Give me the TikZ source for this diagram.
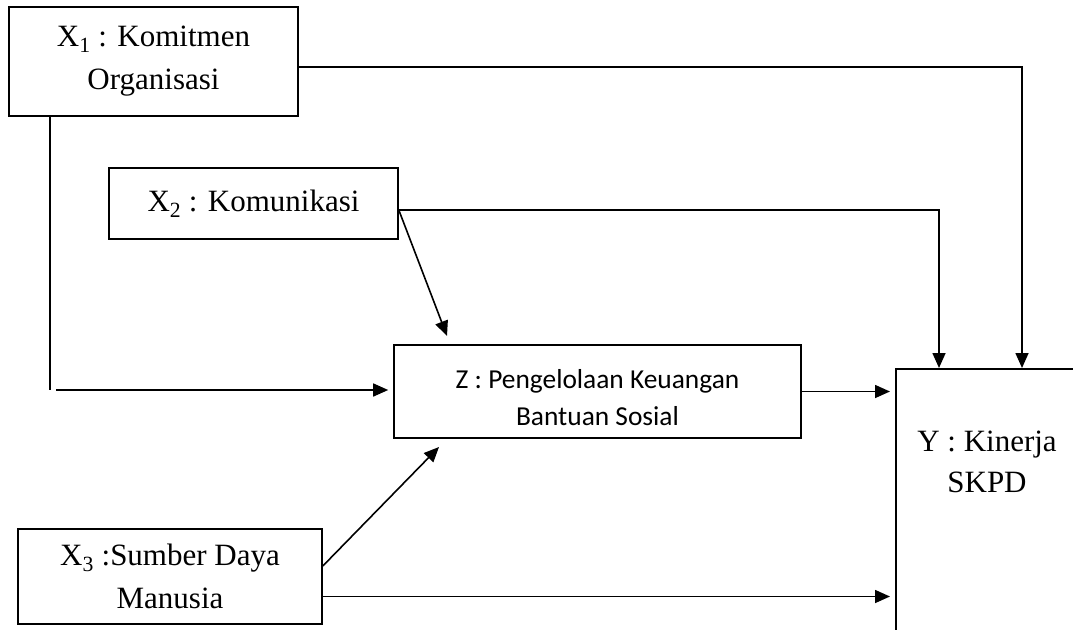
\documentclass[tikz,border=0pt]{standalone}
\usepackage{fontspec}
\setmainfont{Liberation Serif}
\newfontfamily\calibrifont{Carlito}
\usetikzlibrary{arrows.meta}
\tikzset{
  box/.style={draw=black, line width=1.6pt, align=center, inner sep=0pt,
    font=\fontsize{31}{43}\selectfont},
  zbox/.style={box, font=\calibrifont\fontsize{27.4}{37}\selectfont},
  txt/.style={align=center, inner sep=0pt, font=\fontsize{31}{41}\selectfont},
  conn/.style={line width=1.6pt, draw=black},
  arr/.style={conn, -{Triangle[length=15pt, width=13pt]}}
}
\begin{document}
\begin{tikzpicture}[x=1pt, y=-1pt]
\useasboundingbox (0,0) rectangle (1073,629);
% boxes
\node[box, minimum width=289pt, minimum height=109pt] (X1) at (153.5,61.5) {X\textsubscript{1} : Komitmen\\Organisasi};
\node[box, minimum width=289pt, minimum height=71pt] (X2) at (253.5,203.5) {X\textsubscript{2} : Komunikasi};
\node[zbox, minimum width=407pt, minimum height=93pt] (Z) at (597.5,391.5) {\rule{0pt}{32pt}Z : Pengelolaan Keuangan\\Bantuan Sosial};
\node[box, minimum width=304pt, minimum height=95pt] (X3) at (170,576.5) {X\textsubscript{3} :Sumber Daya\\Manusia};
\node[box, anchor=north west, minimum width=190pt, minimum height=280pt] (Y) at (895,368) {};
\node[txt] (Ytext) at (987,462) {Y : Kinerja\\SKPD};
% helper coordinates
\coordinate (c1) at (1022,368);
\coordinate (c2) at (939,368);
\coordinate (c3) at (50,390);
\coordinate (c4) at (56,390);
\coordinate (z2) at (447,336);
\coordinate (z3) at (439,447);
% connectors
\draw[arr] ([yshift=-5.5pt]X1.east) -| (c1);
\draw[arr] ([yshift=-6.5pt]X2.east) -| (c2);
\draw[arr] ([yshift=-6.5pt]X2.east) -- (z2);
\draw[conn] (X1.south west -| c3) -- (c3);
\draw[arr, shorten >=5pt] (c4) -- (c4 -| Z.west);
\draw[arr, shorten >=5pt] (Z.east) -- (Z.east -| Y.west);
\draw[arr] ([yshift=10.5pt]X3.east) -- (z3);
\draw[arr, shorten >=5pt] ([yshift=-20pt]X3.east) -- ([yshift=-20pt]X3.east -| Y.west);
\end{tikzpicture}
\end{document}
